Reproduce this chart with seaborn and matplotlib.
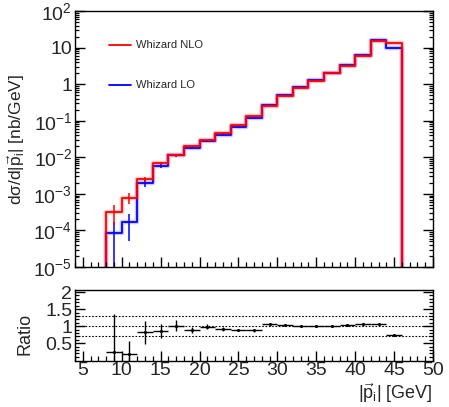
import numpy as np
import pandas as pd
import matplotlib
matplotlib.use("Agg")
import matplotlib.pyplot as plt
import matplotlib.ticker as mticker
import seaborn as sns

# ---------------- data ----------------
bin_edges = [4, 6, 8, 10, 12, 14, 16, 18, 20, 22, 24, 26, 28, 30, 32, 34, 36, 38, 40, 42, 44, 46, 48, 50]
nlo_vals = [0, 0, 3.2e-4, 7.8e-4, 2.5e-3, 6.9e-3, 0.0117, 0.020, 0.029, 0.045, 0.074, 0.135,
            0.26, 0.48, 0.79, 1.25, 2.0, 3.2, 5.9, 15.3, 13.2, 0, 0]
lo_vals = [0, 0, 8.6e-5, 1.7e-4, 2.0e-3, 5.9e-3, 0.0112, 0.0174, 0.028, 0.041, 0.066, 0.12,
           0.27, 0.49, 0.81, 1.26, 2.02, 3.33, 6.25, 16.1, 9.8, 0, 0]
nlo_errs = [0, 0, 1.8e-4, 2.6e-4, 4.0e-4, 6.0e-4, 7.0e-4, 1.0e-3, 1.2e-3, 1.4e-3, 2.0e-3, 3.0e-3,
            5.0e-3, 8.0e-3, 0.012, 0.018, 0.025, 0.035, 0.06, 0.15, 0.13, 0, 0]
lo_errs = [0, 0, 8.0e-5, 1.2e-4, 5.0e-4, 7.0e-4, 9.0e-4, 1.0e-3, 1.4e-3, 1.6e-3, 2.0e-3, 3.0e-3,
           5.0e-3, 8.0e-3, 0.012, 0.018, 0.025, 0.035, 0.06, 0.15, 0.12, 0, 0]

ratio_vals = [0.23, 0.18, 0.82, 0.85, 1.02, 0.89, 0.98, 0.92, 0.89, 0.88,
              1.05, 1.03, 1.02, 1.01, 1.01, 1.04, 1.06, 1.05, 0.74]
ratio_errs = [1.12, 0.40, 0.33, 0.20, 0.15, 0.08, 0.07, 0.05, 0.04, 0.04,
              0.03, 0.02, 0.02, 0.02, 0.02, 0.02, 0.02, 0.02, 0.02]
ratio_lines = [0.7, 1.0, 1.3]

y_tick_vals = [1e-5, 1e-4, 1e-3, 1e-2, 1e-1, 1, 10, 100]
y_tick_labels = [r"$10^{-5}$", r"$10^{-4}$", r"$10^{-3}$", r"$10^{-2}$", r"$10^{-1}$", "1", "10", r"$10^{2}$"]
r_tick_vals = [0.5, 1.0, 1.5, 2.0]
r_tick_labels = ["0.5", "1", "1.5", "2"]
x_tick_vals = [5, 10, 15, 20, 25, 30, 35, 40, 45, 50]

# ---------------- style ----------------
sns.set_theme(style="white")
plt.rcParams["font.family"] = ["Liberation Sans", "DejaVu Sans"]
plt.rcParams["mathtext.fontset"] = "custom"
plt.rcParams["mathtext.rm"] = "Liberation Sans"
plt.rcParams["mathtext.it"] = "Liberation Sans"
plt.rcParams["mathtext.bf"] = "Liberation Sans:bold"

edges = [float(e) for e in bin_edges]
centers = [0.5 * (a + b) for a, b in zip(edges[:-1], edges[1:])]
df = pd.DataFrame({"x": centers, "nlo": nlo_vals, "lo": lo_vals,
                   "nlo_err": nlo_errs, "lo_err": lo_errs})
nz = df[df["nlo"] > 0]
rdf = pd.DataFrame({"x": nz["x"].values, "r": ratio_vals, "e": ratio_errs})

W, H = 449, 407
fig = plt.figure(figsize=(W / 100, H / 100), dpi=100)
ax = fig.add_axes([75 / W, (H - 267) / H, 358 / W, 256 / H])
ax2 = fig.add_axes([75 / W, (H - 361) / H, 358 / W, 71 / H])

# ---------------- upper panel ----------------
for col, ecol, color, lab in [("lo", "lo_err", "#0000ff", "Whizard LO"),
                              ("nlo", "nlo_err", "#ff0000", "Whizard NLO")]:
    sns.histplot(data=df, x="x", weights=col, bins=edges, element="step", fill=False,
                 color=color, linewidth=3.2, alpha=0.22, ax=ax, label="_nolegend_")
    sns.histplot(data=df, x="x", weights=col, bins=edges, element="step", fill=False,
                 color=color, linewidth=1.3, ax=ax, label=lab)
    sub = df[df[col] > 0]
    ax.vlines(sub["x"], sub[col] - sub[ecol], sub[col] + sub[ecol], colors=color, linewidth=1.1)

ax.set_yscale("log")
ax.set_ylim(1e-5, 100)
ax.set_xlim(4, 50)
ax.set_yticks(y_tick_vals)
ax.set_yticklabels(y_tick_labels)
ax.yaxis.set_minor_locator(mticker.NullLocator())
ax.set_xticks(x_tick_vals)
ax.xaxis.set_minor_locator(mticker.NullLocator())
ax.tick_params(axis="x", labelbottom=False)
ax.set_xlabel("")
ax.set_ylabel("dσ/d|$\\vec{\\mathrm{p}}_{\\mathrm{i}}$| [nb/GeV]", fontsize=12.5)
ax.yaxis.set_label_coords(-0.135, 0.5)

handles, labels = ax.get_legend_handles_labels()
order = [labels.index("Whizard NLO"), labels.index("Whizard LO")]
ax.legend([handles[i] for i in order], [labels[i] for i in order],
          loc="upper left", bbox_to_anchor=(0.095, 0.885), frameon=False, fontsize=8,
          handlelength=2.0, handletextpad=0.4, labelspacing=2.7, borderpad=0, borderaxespad=0)

# ---------------- ratio panel ----------------
for yv in ratio_lines:
    ax2.axhline(yv, color="black", linestyle=(0, (1.5, 1.5)), linewidth=0.8)
ax2.vlines(rdf["x"], rdf["r"] - rdf["e"], rdf["r"] + rdf["e"], colors="black", linewidth=1.0)
ax2.hlines(rdf["r"], rdf["x"] - 1.0, rdf["x"] + 1.0, colors="black", linewidth=1.0)
sns.scatterplot(data=rdf, x="x", y="r", color="black", s=5, linewidth=0, ax=ax2, legend=False)
ax2.set_xlim(4, 50)
ax2.set_ylim(-0.02, 2.06)
ax2.set_yticks(r_tick_vals)
ax2.set_yticklabels(r_tick_labels)
ax2.yaxis.set_minor_locator(mticker.NullLocator())
ax2.set_xticks(x_tick_vals)
ax2.set_xticklabels([str(v) for v in x_tick_vals])
ax2.xaxis.set_minor_locator(mticker.NullLocator())
ax2.set_ylabel("Ratio", fontsize=13)
ax2.yaxis.set_label_coords(-0.115, 0.38)
ax2.set_xlabel("|$\\vec{\\mathrm{p}}_{\\mathrm{i}}$| [GeV]", fontsize=13, ha="right")
ax2.xaxis.set_label_coords(1.0, -0.29)
ax2.xaxis.label.set_va("top")

for a in (ax, ax2):
    for s in a.spines.values():
        s.set_color("black")
        s.set_linewidth(1.0)
    a.tick_params(which="both", direction="in", top=False, right=True, left=True, bottom=True,
                  color="black", labelsize=14)
    a.tick_params(which="major", length=7, width=1.0)
    a.tick_params(axis="x", pad=1)
    a.tick_params(axis="y", pad=2)

# ---------------- minor tick marks (ROOT style, drawn inside the frame) ----------------
x_minor = [v for v in range(4, 51) if v % 5 != 0]
y_minor_log = [m * 10.0 ** e for e in range(-5, 2) for m in range(2, 10)]
r_minor = [round(0.1 * k, 1) for k in range(0, 21) if k % 5 != 0]

def minor_x(a, xs, ax_h_px, length_px=5.0):
    f = length_px / ax_h_px
    a.vlines(xs, 0, f, transform=a.get_xaxis_transform(), colors="black",
             linewidth=0.9, clip_on=False, zorder=5)

def minor_y(a, ys, length_px=4.0):
    f = length_px / 358.0
    tr = a.get_yaxis_transform()
    a.hlines(ys, 0, f, transform=tr, colors="black", linewidth=0.9, clip_on=False, zorder=5)
    a.hlines(ys, 1 - f, 1, transform=tr, colors="black", linewidth=0.9, clip_on=False, zorder=5)

minor_x(ax, x_minor, 256.0)
minor_y(ax, y_minor_log)
minor_x(ax2, x_minor, 71.0)
minor_y(ax2, r_minor)
ax.set_ylim(1e-5, 100)
ax2.set_ylim(-0.02, 2.06)

fig.savefig("out.png", dpi=100)
